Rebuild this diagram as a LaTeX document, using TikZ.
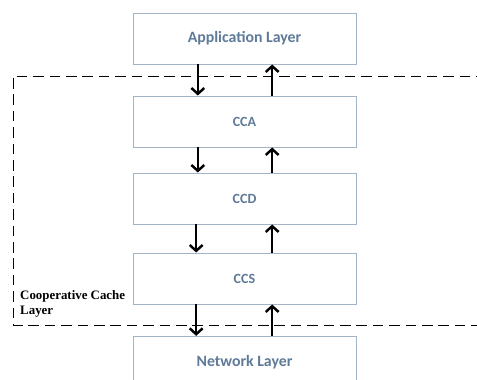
\documentclass[tikz,border=0pt]{standalone}
\usepackage{fontspec}
\setmainfont{Carlito}
\newfontfamily\labelfont{Liberation Serif}
\usepackage{xcolor}
\usetikzlibrary{arrows.meta}
\definecolor{boxline}{HTML}{A3B4C6}
\definecolor{boxtext}{HTML}{5E7A98}
\tikzstyle{layer} = [rectangle, minimum width=6.69cm, minimum height=1.53cm, text centered, draw=boxline, line width=0.8pt, text=boxtext, font=\fontsize{13.5}{16}\selectfont\bfseries]
\tikzstyle{sublayer} = [layer, font=\fontsize{12}{14}\selectfont\bfseries]
\tikzstyle{arrow} = [line width=2.1pt, -{Straight Barb[length=5pt, width=11pt]}]

\begin{document}
\begin{tikzpicture}[node distance=2.4cm]
	\useasboundingbox (0,0) rectangle (14.31,-11.4);
	\node (app) [layer] at (7.335,-1.155) {Application Layer};
	\node (cca) [sublayer, below of=app, yshift=-0.09cm] {CCA};
	\node (ccd) [sublayer, below of=cca, yshift=0.09cm] {CCD};
	\node (ccs) [sublayer, below of=ccd] {CCS};
	\node (net) [layer, below of=ccs, yshift=-0.1cm] {Network Layer};

	% cooperative cache frame
	\draw [dashed, dash pattern=on 9pt off 5pt, line width=0.7pt] (14.6,-2.28) -| (0.39,-9.75) -- (14.6,-9.75);
	\node (coop) [anchor=west, align=left, inner sep=0pt, font=\labelfont\bfseries\fontsize{11}{12.5}\selectfont] at (0.6,-9.12) {Cooperative Cache\\Layer};

	\draw [arrow] ([xshift=-1.4cm]app.south) -- ([xshift=-1.4cm]cca.north);
	\draw [arrow] ([xshift=0.83cm]cca.north) -- ([xshift=0.83cm]app.south);
	\draw [arrow] ([xshift=-1.4cm]cca.south) -- ([xshift=-1.4cm]ccd.north);
	\draw [arrow] ([xshift=0.83cm]ccd.north) -- ([xshift=0.83cm]cca.south);
	\draw [arrow] ([xshift=-1.45cm]ccd.south) -- ([xshift=-1.45cm]ccs.north);
	\draw [arrow] ([xshift=0.83cm]ccs.north) -- ([xshift=0.83cm]ccd.south);
	\draw [arrow] ([xshift=-1.45cm]ccs.south) -- ([xshift=-1.45cm]net.north);
	\draw [arrow] ([xshift=0.83cm]net.north) -- ([xshift=0.83cm]ccs.south);
\end{tikzpicture}
\end{document}
